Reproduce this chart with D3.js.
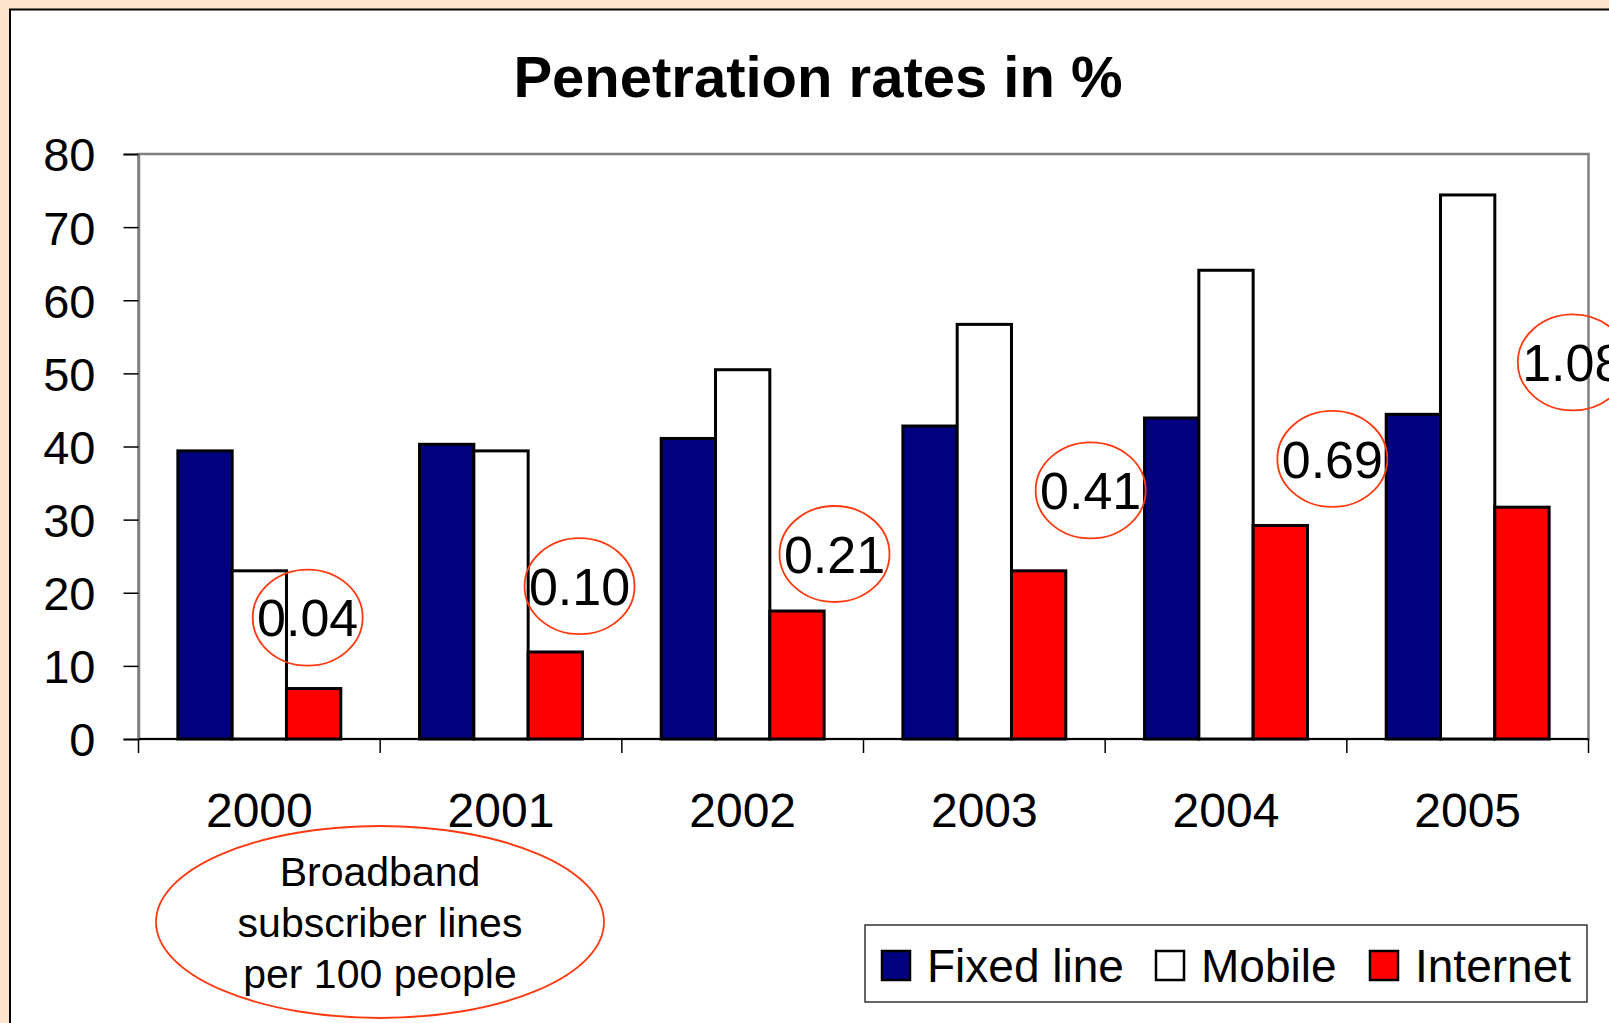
<!DOCTYPE html>
<html>
<head>
<meta charset="utf-8">
<script src="https://cdn.jsdelivr.net/npm/d3@7"></script>
<style>
  body { margin: 0; background: #fce5ca; }
  svg { display: block; font-family: "Liberation Sans", Arial, sans-serif; }
</style>
</head>
<body>
<div id="chart"></div>
<script>
// Penetration rates chart

const width = 1609;
const height = 1023;
const margin = {left: 138.5, right: 20.5, top: 154, bottom: 284};

// data
const years = ["2000", "2001", "2002", "2003", "2004", "2005"];
const seriesNames = ["Fixed line", "Mobile", "Internet"];
const fixedLine = [39.4, 40.3, 41.1, 42.8, 43.9, 44.4];
const mobile = [23.0, 39.4, 50.5, 56.7, 64.1, 74.4];
const internet = [6.9, 11.9, 17.5, 23.0, 29.2, 31.7];
const broadband = ["0.04", "0.10", "0.21", "0.41", "0.69", "1.08"];
const yTicks = [0, 10, 20, 30, 40, 50, 60, 70, 80];

// where the broadband callouts sit (value level, share across the year band)
const calloutLevel = [16.6, 20.9, 25.3, 34.0, 38.3, 51.5];
const calloutShift = [0.70, 0.825, 0.88, 0.94, 0.94, 0.935];

const colors = {"Fixed line": "#000080", "Mobile": "#ffffff", "Internet": "#ff0000"};
const callRed = "#ff3a10";

const svg = d3.select("#chart")
  .append("svg")
  .attr("width", width)
  .attr("height", height);

// page background + white panel
svg.append("rect")
  .attr("width", width).attr("height", height)
  .attr("fill", "#fce5ca");
svg.append("rect")
  .attr("x", 10).attr("y", 9.5)
  .attr("width", width + 20).attr("height", height + 20)
  .attr("fill", "#ffffff")
  .attr("stroke", "#000").attr("stroke-width", 2);

// scales
const x0 = d3.scaleBand()
  .domain(years)
  .range([margin.left, width - margin.right]);

const x1 = d3.scaleBand()
  .domain(seriesNames)
  .range([0, x0.bandwidth()])
  .paddingOuter(0.725);

const y = d3.scaleLinear()
  .domain([0, 80])
  .range([height - margin.bottom, margin.top]);

// title
svg.append("text")
  .attr("x", 818).attr("y", 97)
  .attr("text-anchor", "middle")
  .attr("font-size", 58)
  .attr("font-weight", "bold")
  .text("Penetration rates in %");

// plot area border (grey)
svg.append("rect")
  .attr("x", margin.left).attr("y", margin.top)
  .attr("width", width - margin.left - margin.right)
  .attr("height", y(0) - margin.top)
  .attr("fill", "none")
  .attr("stroke", "#808080")
  .attr("stroke-width", 2.5);

// y axis
const yAxis = svg.append("g")
  .attr("transform", `translate(${margin.left},0)`)
  .call(d3.axisLeft(y).tickValues(yTicks).tickSize(15).tickPadding(28));
yAxis.select(".domain").attr("stroke", "#808080").attr("stroke-width", 2.5);
yAxis.selectAll(".tick line").attr("stroke", "#000").attr("stroke-width", 1.5);
yAxis.selectAll("text")
  .attr("font-size", 47)
  .attr("font-family", "Liberation Sans, Arial, sans-serif")
  .attr("fill", "#000")
  .attr("dy", "0.36em");

// x axis labels
const xAxis = svg.append("g")
  .attr("transform", `translate(0,${y(0)})`)
  .call(d3.axisBottom(x0).tickSize(0).tickPadding(54));
xAxis.select(".domain").remove();
xAxis.selectAll("text")
  .attr("font-size", 48)
  .attr("font-family", "Liberation Sans, Arial, sans-serif")
  .attr("fill", "#000");

// bars
const rows = years.map((yr, i) => ({
  year: yr,
  values: [
    {key: "Fixed line", value: fixedLine[i]},
    {key: "Mobile", value: mobile[i]},
    {key: "Internet", value: internet[i]}
  ]
}));

svg.append("g")
  .selectAll("g")
  .data(rows)
  .join("g")
    .attr("transform", d => `translate(${x0(d.year)},0)`)
  .selectAll("rect")
  .data(d => d.values)
  .join("rect")
    .attr("x", d => x1(d.key))
    .attr("y", d => y(d.value))
    .attr("width", x1.bandwidth())
    .attr("height", d => y(0) - y(d.value))
    .attr("fill", d => colors[d.key])
    .attr("stroke", "#000")
    .attr("stroke-width", 3);

// zero line and category boundary ticks
svg.append("line")
  .attr("x1", margin.left).attr("x2", width - margin.right)
  .attr("y1", y(0)).attr("y2", y(0))
  .attr("stroke", "#000").attr("stroke-width", 2);

const bounds = years.map(d => x0(d)).concat([x0.range()[1]]);
svg.append("g")
  .selectAll("line")
  .data(bounds)
  .join("line")
    .attr("x1", d => d).attr("x2", d => d)
    .attr("y1", y(0)).attr("y2", y(0) + 14)
    .attr("stroke", "#000").attr("stroke-width", 1.5);

// broadband callouts
const callouts = svg.append("g")
  .selectAll("g")
  .data(broadband)
  .join("g")
    .attr("transform", (d, i) =>
      `translate(${x0(years[i]) + calloutShift[i] * x0.bandwidth()},${y(calloutLevel[i])})`);

callouts.append("ellipse")
  .attr("rx", 55).attr("ry", 48)
  .attr("fill", "none")
  .attr("stroke", callRed)
  .attr("stroke-width", 1.8);

callouts.append("text")
  .attr("text-anchor", "middle")
  .attr("dy", "0.36em")
  .attr("font-size", 52)
  .text(d => d);

// note ellipse
const note = svg.append("g").attr("transform", "translate(380,922)");
note.append("ellipse")
  .attr("rx", 224).attr("ry", 96)
  .attr("fill", "none")
  .attr("stroke", callRed)
  .attr("stroke-width", 1.8);
note.selectAll("text")
  .data(["Broadband", "subscriber lines", "per 100 people"])
  .join("text")
    .attr("text-anchor", "middle")
    .attr("y", (d, i) => (i - 1) * 51)
    .attr("dy", "0.36em")
    .attr("font-size", 41)
    .text(d => d);

// legend
const legend = svg.append("g");
legend.append("rect")
  .attr("x", 865).attr("y", 925)
  .attr("width", 722).attr("height", 77)
  .attr("fill", "#fff")
  .attr("stroke", "#333")
  .attr("stroke-width", 1.5);

const legendX = [882, 1156, 1370];
const items = legend.selectAll("g.item")
  .data(seriesNames)
  .join("g")
    .attr("class", "item")
    .attr("transform", (d, i) => `translate(${legendX[i]},965)`);
items.append("rect")
  .attr("x", 0).attr("y", -14)
  .attr("width", 28).attr("height", 29)
  .attr("fill", d => colors[d])
  .attr("stroke", "#000")
  .attr("stroke-width", 2.5);
items.append("text")
  .attr("x", 45)
  .attr("dy", "0.36em")
  .attr("font-size", 46)
  .text(d => d);
</script>
</body>
</html>
